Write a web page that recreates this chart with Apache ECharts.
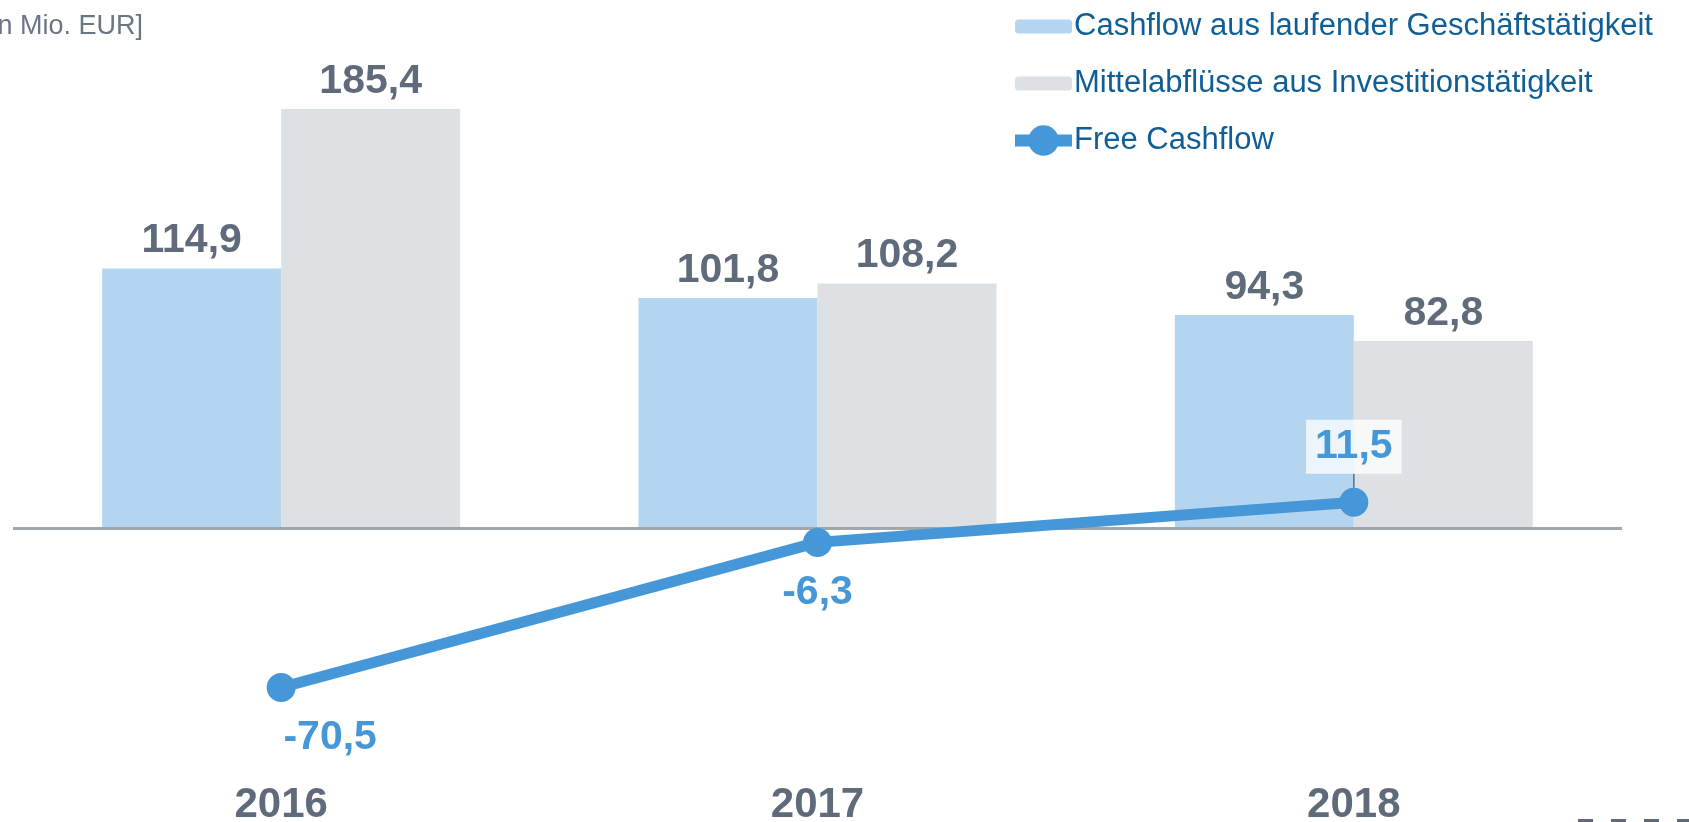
<!DOCTYPE html>
<html>
<head>
<meta charset="utf-8">
<script src="https://cdn.jsdelivr.net/npm/echarts@6/dist/echarts.min.js"></script>
<style>
  html, body { margin: 0; padding: 0; background: #fff; }
  #chart { width: 1689px; height: 822px; }
</style>
</head>
<body>
<div id="chart"></div>
<script>
// Daten
const years = ['2016', '2017', '2018']
const operatingCashflow = [114.9, 101.8, 94.3]
const investmentOutflow = [185.4, 108.2, 82.8]
const freeCashflow = [-70.5, -6.3, 11.5]

const seriesNames = [
  'Cashflow aus laufender Geschäftstätigkeit',
  'Mittelabflüsse aus Investitionstätigkeit',
  'Free Cashflow',
]

const fmt = (v) => String(v).replace('.', ',')

const baseFont = '"Liberation Sans", Arial, sans-serif'

const chart = echarts.init(document.getElementById('chart'))

const lastIdx = freeCashflow.length - 1

// Labels der Linie: unten, nur der letzte Wert mit Kasten oben und Führungslinie
const lineData = freeCashflow.map((v, i) => {
  if (i === lastIdx) {
    return {
      value: v,
      label: {
        position: 'top',
        distance: 2,
        backgroundColor: 'rgba(255,255,255,0.75)',
        padding: [7, 9, 6, 9],
      },
    }
  }
  return {value: v, label: {position: 'bottom'}, labelLine: {show: false}}
})

const barLabel = {
  show: true,
  position: 'top',
  distance: 7,
  color: '#5f6b7a',
  fontSize: 41,
  fontWeight: 'bold',
  fontFamily: baseFont,
  formatter: (p) => fmt(p.value),
}

const legendText = {
  color: '#0f5e96',
  fontSize: 31,
  fontFamily: baseFont,
  padding: [0, 0, 0, -3],
}

const option = {
  animation: false,
  title: {
    text: '[in Mio. EUR]',
    left: -21,
    top: 8,
    textStyle: {
      color: '#6b7684',
      fontSize: 27,
      fontWeight: 'normal',
      fontFamily: baseFont,
    },
  },
  legend: [
    {
      orient: 'vertical',
      left: 1010,
      top: 6,
      itemWidth: 57,
      itemHeight: 14,
      itemGap: 26,
      textStyle: legendText,
      data: [seriesNames[0], seriesNames[1]],
    },
    {
      orient: 'vertical',
      left: 1004,
      top: 120,
      itemWidth: 57,
      itemHeight: 38,
      textStyle: legendText,
      data: [
        {
          name: seriesNames[2],
          lineStyle: {width: 12, color: '#4597d8'},
        },
      ],
    },
  ],
  grid: {
    left: 13,
    right: 67,
    top: 76,
    bottom: 113,
    outerBoundsMode: 'none',
  },
  xAxis: {
    type: 'category',
    data: years,
    axisLine: {show: false, onZero: false},
    axisTick: {show: false},
    axisLabel: {
      margin: 75,
      color: '#5f6b7a',
      fontSize: 42,
      fontWeight: 'bold',
      fontFamily: baseFont,
    },
  },
  yAxis: {
    type: 'value',
    min: -80,
    max: 200,
    show: false,
    splitLine: {show: false},
  },
  series: [
    {
      name: seriesNames[0],
      type: 'bar',
      data: operatingCashflow,
      barWidth: 179,
      barGap: '0%',
      itemStyle: {color: '#b4d5ef'},
      label: barLabel,
      markLine: {
        silent: true,
        symbol: 'none',
        label: {show: false},
        lineStyle: {color: '#a2a6ad', width: 3, type: 'solid'},
        data: [{yAxis: 0}],
      },
    },
    {
      name: seriesNames[1],
      type: 'bar',
      data: investmentOutflow,
      barWidth: 179,
      barGap: '0%',
      itemStyle: {color: '#dee1e4'},
      label: barLabel,
    },
    {
      name: seriesNames[2],
      type: 'line',
      data: lineData,
      z: 5,
      symbol: 'circle',
      symbolSize: 29,
      lineStyle: {color: '#4597d8', width: 11},
      itemStyle: {color: '#4597d8'},
      label: {
        show: true,
        distance: 15,
        color: '#4597d8',
        fontSize: 41,
        fontWeight: 'bold',
        fontFamily: baseFont,
        formatter: (p) => fmt(p.value),
      },
      // erster Wert nach rechts versetzt, letzter angehoben (mit Führungslinie)
      labelLayout: (params) => {
        if (params.dataIndex === 0) return {dx: 49}
        if (params.dataIndex === lastIdx) return {dy: -12}
        return {}
      },
      labelLine: {
        show: true,
        lineStyle: {color: '#5f6b7a', width: 1.5},
      },
    },
  ],
  graphic: [
    {
      type: 'line',
      silent: true,
      shape: {x1: 1578, y1: 821, x2: 1689, y2: 821},
      style: {stroke: '#5f6b7a', lineWidth: 4, lineDash: [15, 18]},
    },
  ],
}

chart.setOption(option)
</script>
</body>
</html>
